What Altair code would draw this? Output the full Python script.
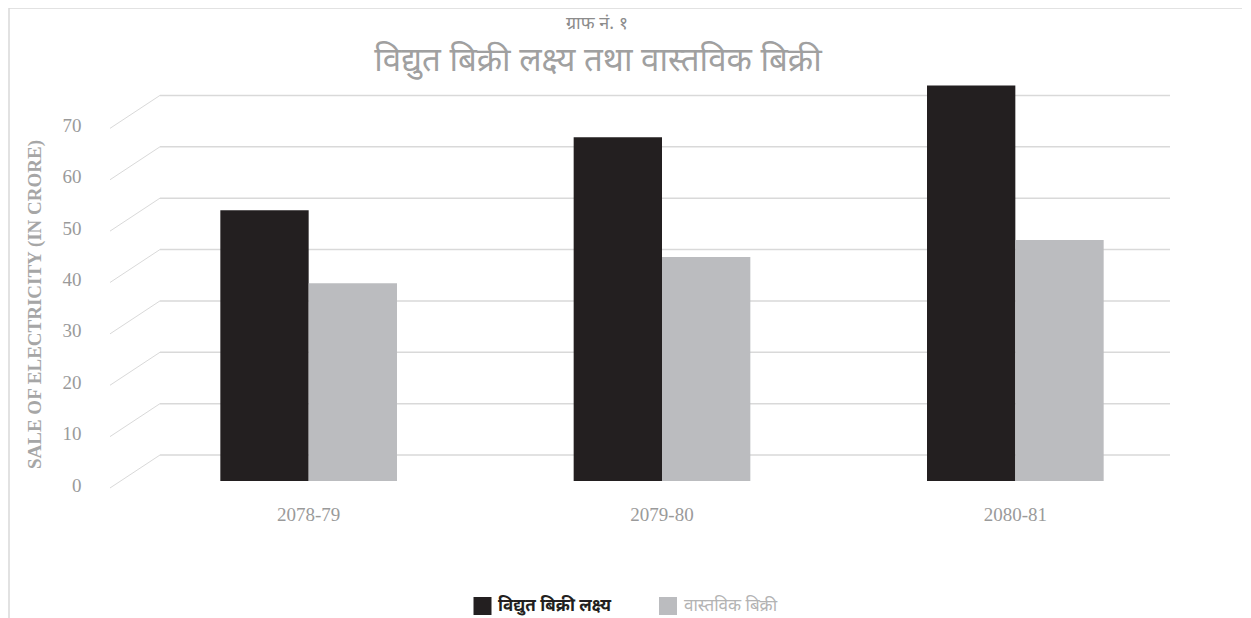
import altair as alt
import pandas as pd

years = ["2078-79", "2079-80", "2080-81"]
series_names = ["विद्युत बिक्री लक्ष्य", "वास्तविक बिक्री"]
target_sales = [52.7, 66.9, 77.0]
actual_sales = [38.5, 43.6, 46.9]
tick_values = [0, 10, 20, 30, 40, 50, 60, 70]
series_colors = ["#231f20", "#bbbcbf"]
legend_label_colors = ["#231f20", "#b3b3b3"]
title_small = "ग्राफ नं. १"
title_main = "विद्युत बिक्री लक्ष्य तथा वास्तविक बिक्री"
y_title = "SALE OF ELECTRICITY (IN CRORE)"

rows = []
for i, yr in enumerate(years):
    rows.append({"year": yr, "series": series_names[0], "value": target_sales[i]})
    rows.append({"year": yr, "series": series_names[1], "value": actual_sales[i]})
bars_df = pd.DataFrame(rows)

grid_df = pd.DataFrame({"v": tick_values})
YDOM = [0, 80]
yscale = alt.Scale(domain=YDOM)
y_axis = alt.Axis(values=tick_values, grid=False, ticks=False, domain=False,
                  labelFont="Liberation Serif", labelFontSize=19,
                  labelColor="#9a9a9a", labelPadding=51, labelOffset=4,
                  title=y_title, titleFont="Liberation Serif",
                  titleFontSize=19, titleFontWeight="bold",
                  titleColor="#a6a6a6", titleAngle=270,
                  titleX=-98, titleY=234, titleAlign="center",
                  titleBaseline="middle")

# back wall gridlines (perspective look)
back_grid = alt.Chart(grid_df).transform_calculate(
    back="datum.v + 5.06"
).mark_rule(color="#d9d9d9", strokeWidth=1.5).encode(
    y=alt.Y("back:Q", scale=yscale, axis=y_axis),
    x=alt.value(28), x2=alt.value(1038),
)
diag_grid = alt.Chart(grid_df).transform_calculate(
    back="datum.v + 5.06", front="datum.v - 1.36"
).mark_rule(color="#d9d9d9", strokeWidth=1).encode(
    y=alt.Y("front:Q", scale=yscale, axis=y_axis),
    y2="back:Q",
    x=alt.value(-22), x2=alt.value(28),
)

bars = alt.Chart(bars_df).mark_bar().encode(
    x=alt.X("year:N", sort=years,
            scale=alt.Scale(paddingInner=0.5, paddingOuter=0.25),
            axis=alt.Axis(title=None, labelAngle=0, ticks=False, domain=False,
                          labelFont="Liberation Serif", labelFontSize=19,
                          labelColor="#9a9a9a", labelPadding=24)),
    xOffset=alt.XOffset("series:N", sort=series_names),
    y=alt.Y("value:Q", scale=yscale, axis=y_axis),
    color=alt.Color("series:N", sort=series_names,
                    scale=alt.Scale(domain=series_names, range=series_colors),
                    legend=None),
)

one = pd.DataFrame({"k": [0]})
border = alt.Chart(one).mark_rect(fill="white", fillOpacity=0, stroke="#d9d9d9", strokeWidth=1.5).encode(
    x=alt.value(-123), x2=alt.value(1200), y=alt.value(-62), y2=alt.value(700)
)

t_small = alt.Chart(one).mark_text(font="Noto Sans", fontSize=18, color="#8c8c8c",
                                   align="center", baseline="middle").encode(
    x=alt.value(465), y=alt.value(-46), text=alt.value(title_small))
t_main = alt.Chart(one).mark_text(font="Noto Sans", fontSize=33,
                                  color="#a0a0a0",
                                  align="center", baseline="middle").encode(
    x=alt.value(466), y=alt.value(-9), text=alt.value(title_main))

legend_df = pd.DataFrame({"series": series_names, "lc": legend_label_colors})
legend_layers = []
sq_x = [350.5, 536]
tx_x = [366, 552]
for i, s in enumerate(series_names):
    base = alt.Chart(legend_df).transform_filter(alt.datum.series == s)
    legend_layers.append(base.mark_square(size=324, opacity=1).encode(
        x=alt.value(sq_x[i]), y=alt.value(536),
        color=alt.Color("series:N", sort=series_names,
                        scale=alt.Scale(domain=series_names, range=series_colors),
                        legend=None)))
    legend_layers.append(base.mark_text(font="Noto Sans", fontSize=17, align="left",
                                        baseline="middle",
                                        fontWeight="bold" if i == 0 else "normal",
                                        color=legend_label_colors[i]).encode(
        x=alt.value(tx_x[i]), y=alt.value(536), text="series:N"))

chart = alt.layer(border, back_grid, diag_grid, bars, t_small, t_main, *legend_layers).properties(
    width=1060, height=411,
    padding={"left": 124, "top": 62, "right": 50, "bottom": 137},
    autosize=alt.AutoSizeParams(type="none"),
).configure_view(stroke=None)

chart.save("out.html", embed_options={"renderer": "svg", "actions": False})
